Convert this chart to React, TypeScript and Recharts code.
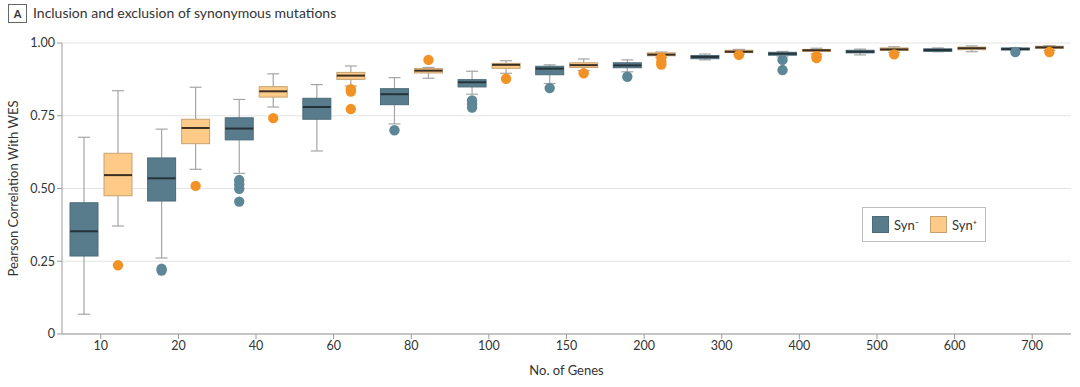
import { ComposedChart, Bar, XAxis, YAxis, CartesianGrid } from 'recharts';

const genes = ['10', '20', '40', '60', '80', '100', '150', '200', '300', '400', '500', '600', '700'];

// each box: [lower whisker, Q1, median, Q3, upper whisker]
const synMinusBoxes: number[][] = [
  [0.068, 0.268, 0.353, 0.451, 0.676],
  [0.261, 0.457, 0.535, 0.605, 0.704],
  [0.552, 0.667, 0.706, 0.743, 0.806],
  [0.629, 0.738, 0.78, 0.81, 0.857],
  [0.722, 0.788, 0.824, 0.843, 0.881],
  [0.824, 0.849, 0.865, 0.874, 0.903],
  [0.861, 0.891, 0.912, 0.92, 0.925],
  [0.901, 0.915, 0.923, 0.932, 0.942],
  [0.942, 0.946, 0.952, 0.957, 0.962],
  [0.952, 0.958, 0.963, 0.968, 0.971],
  [0.959, 0.966, 0.97, 0.975, 0.979],
  [0.97, 0.971, 0.976, 0.98, 0.983],
  [0.975, 0.976, 0.979, 0.983, 0.984],
];
const synMinusOutliers: number[][] = [
  [],
  [0.224, 0.218],
  [0.529, 0.515, 0.499, 0.455],
  [],
  [0.7],
  [0.803, 0.79, 0.778],
  [0.845],
  [0.884],
  [],
  [0.942, 0.907],
  [],
  [],
  [0.969],
];

const synPlusBoxes: number[][] = [
  [0.371, 0.475, 0.546, 0.621, 0.836],
  [0.566, 0.654, 0.708, 0.738, 0.848],
  [0.78, 0.814, 0.834, 0.85, 0.894],
  [0.852, 0.875, 0.888, 0.899, 0.921],
  [0.879, 0.897, 0.905, 0.912, 0.916],
  [0.896, 0.913, 0.925, 0.93, 0.939],
  [0.905, 0.916, 0.924, 0.932, 0.945],
  [0.95, 0.956, 0.96, 0.966, 0.969],
  [0.962, 0.967, 0.97, 0.975, 0.978],
  [0.962, 0.971, 0.975, 0.978, 0.982],
  [0.968, 0.974, 0.978, 0.983, 0.987],
  [0.97, 0.977, 0.982, 0.986, 0.99],
  [0.975, 0.981, 0.985, 0.989, 0.991],
];
const synPlusOutliers: number[][] = [
  [0.236],
  [0.509],
  [0.742],
  [0.841, 0.833, 0.773],
  [0.942],
  [0.877],
  [0.896],
  [0.95, 0.935, 0.926],
  [0.959],
  [0.955, 0.948],
  [0.961],
  [],
  [0.969],
];

const yTicks = [0, 0.25, 0.5, 0.75, 1];

const SYN_MINUS = { fill: '#587c8c', stroke: '#4b6b79', median: '#26343a', outlier: '#5d8797' };
const SYN_PLUS = { fill: '#fdca87', stroke: '#c6a272', median: '#3a2f22', outlier: '#f39224' };
const WHISKER = '#a5a5a5';
const FONT = 'Lato, "Open Sans", sans-serif';

const data = genes.map((gene, i) => ({
  gene,
  synMinus: synMinusBoxes[i],
  synMinusOut: synMinusOutliers[i],
  synPlus: synPlusBoxes[i],
  synPlusOut: synPlusOutliers[i],
}));

// box shape; bar spans the whisker range, so its pixel extent gives us the y mapping
function makeBoxShape(key: 'synMinus' | 'synPlus', colors: typeof SYN_MINUS) {
  return (props: any) => {
    const { x, y, width, height, payload } = props;
    const [lo, q1, med, q3, hi] = payload[key] as number[];
    const outliers = payload[key + 'Out'] as number[];
    const top = Math.min(y, y + height);
    const bottom = Math.max(y, y + height);
    const toY = (v: number) => top + ((hi - v) / (hi - lo)) * (bottom - top);
    const cx = x + width / 2;
    const cap = 6;
    return (
      <g>
        <line x1={cx} x2={cx} y1={toY(hi)} y2={toY(lo)} stroke={WHISKER} strokeWidth={1.2} />
        <line x1={cx - cap} x2={cx + cap} y1={toY(hi)} y2={toY(hi)} stroke={WHISKER} strokeWidth={1.2} />
        <line x1={cx - cap} x2={cx + cap} y1={toY(lo)} y2={toY(lo)} stroke={WHISKER} strokeWidth={1.2} />
        <rect
          x={x}
          y={toY(q3)}
          width={width}
          height={Math.max(toY(q1) - toY(q3), 1)}
          fill={colors.fill}
          stroke={colors.stroke}
          strokeWidth={1}
        />
        <line x1={x} x2={x + width} y1={toY(med)} y2={toY(med)} stroke={colors.median} strokeWidth={2} />
        {outliers.map((v, j) => (
          <circle key={j} cx={cx} cy={toY(v)} r={5.2} fill={colors.outlier} />
        ))}
      </g>
    );
  };
}

const YLabel = (props: any) => {
  const { viewBox } = props;
  const x = 13;
  const y = viewBox.y + viewBox.height / 2;
  return (
    <text x={x} y={y} transform={`rotate(-90 ${x} ${y})`} textAnchor="middle" dominantBaseline="central"
      fill="#333" fontSize={13} fontFamily={FONT}>
      Pearson Correlation With WES
    </text>
  );
};

const XLabel = (props: any) => {
  const { viewBox } = props;
  return (
    <text x={viewBox.x + viewBox.width / 2} y={viewBox.y + 36} textAnchor="middle" dominantBaseline="central"
      fill="#333" fontSize={13} fontFamily={FONT}>
      No. of Genes
    </text>
  );
};

export default function App() {
  return (
    <div style={{ position: 'relative', width: 1080, height: 387, background: '#fff', fontFamily: FONT }}>
      <style>{'body{margin:0}'}</style>

      {/* panel title */}
      <div style={{ position: 'absolute', left: 8, top: 4, width: 17, height: 17, border: '1px solid #666',
        fontSize: 11, fontWeight: 700, color: '#333', textAlign: 'center', lineHeight: '17px' }}>A</div>
      <div style={{ position: 'absolute', left: 33, top: 3, fontSize: 14, color: '#333', lineHeight: '20px' }}>
        Inclusion and exclusion of synonymous mutations
      </div>

      <ComposedChart
        width={1080}
        height={387}
        data={data}
        margin={{ top: 43, right: 9, bottom: 0, left: 0 }}
        barSize={28}
        barGap={6}
      >
        <CartesianGrid vertical={false} stroke="#e4e4e4" />
        <XAxis
          dataKey="gene"
          height={53}
          tickSize={5}
          tick={{ fill: '#333', fontSize: 12.5, fontFamily: FONT }}
          stroke="#9a9a9a"
          label={{ content: XLabel }}
        />
        <YAxis
          domain={[0, 1]}
          ticks={yTicks}
          width={62}
          tickSize={5}
          tickFormatter={(v: number) => (v === 0 ? '0' : v.toFixed(2))}
          tick={{ fill: '#333', fontSize: 12.5, fontFamily: FONT }}
          stroke="#9a9a9a"
          label={{ content: YLabel }}
        />
        <Bar
          dataKey={(d: any) => [d.synMinus[0], d.synMinus[4]]}
          name="Syn-"
          shape={makeBoxShape('synMinus', SYN_MINUS)}
          isAnimationActive={false}
        />
        <Bar
          dataKey={(d: any) => [d.synPlus[0], d.synPlus[4]]}
          name="Syn+"
          shape={makeBoxShape('synPlus', SYN_PLUS)}
          isAnimationActive={false}
        />
      </ComposedChart>

      {/* legend */}
      <div style={{ position: 'absolute', left: 862, top: 207, width: 122, height: 33, border: '1px solid #bdbdbd',
        display: 'flex', alignItems: 'center', fontSize: 13, color: '#333' }}>
        <span style={{ display: 'inline-block', width: 15, height: 15, marginLeft: 9, background: SYN_MINUS.fill,
          border: `1px solid ${SYN_MINUS.stroke}` }} />
        <span style={{ marginLeft: 5 }}>Syn⁻</span>
        <span style={{ display: 'inline-block', width: 15, height: 15, marginLeft: 11, background: SYN_PLUS.fill,
          border: `1px solid ${SYN_PLUS.stroke}` }} />
        <span style={{ marginLeft: 5 }}>Syn⁺</span>
      </div>
    </div>
  );
}
